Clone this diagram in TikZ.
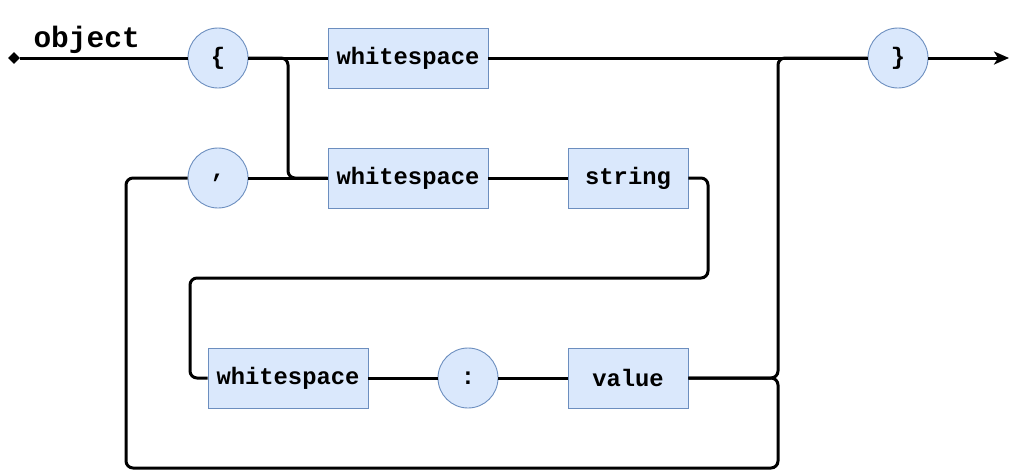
\documentclass[tikz,border=0pt]{standalone}
\usepackage{fontspec}
\setmonofont{Liberation Mono}
\usetikzlibrary{arrows.meta,shapes.geometric}
\definecolor{boxfill}{HTML}{DAE8FC}
\definecolor{boxline}{HTML}{6C8EBF}
\begin{document}
\begin{tikzpicture}[x=1pt,y=-1pt,
  every node/.style={font=\ttfamily\bfseries\fontsize{23.8}{28}\selectfont},
  termbox/.style={draw=boxline,fill=boxfill,line width=0.9pt,minimum width=160pt,minimum height=60pt,inner sep=0pt},
  shortbox/.style={termbox,minimum width=120pt},
  circ/.style={circle,draw=boxline,fill=boxfill,line width=0.9pt,minimum size=60pt,inner sep=0pt},
  conn/.style={line width=3pt,rounded corners=7pt},
  startdot/.style={diamond,fill=black,minimum size=12pt,inner sep=0pt}
]
\useasboundingbox (0,0) rectangle (1019,472);
\node[startdot] (start) at (14,58) {};
\node[anchor=base west,font=\ttfamily\bfseries\fontsize{29.5}{34}\selectfont] (lbl) at (30,47) {object};
\node[circ] (lb) at (218,58) {\{};
\node[termbox] (ws1) at (408,58) {whitespace};
\node[circ] (rb) at (898,58) {\}};
\coordinate (end) at (1009,58);
\node[circ] (comma) at (218,178) {\raisebox{-3pt}{,}};
\node[termbox] (ws2) at (408,178) {whitespace};
\node[shortbox] (str) at (628,178) {string};
\node[termbox] (ws3) at (288,378) {whitespace};
\node[circ] (colon) at (468,378) {:};
\node[shortbox] (val) at (628,378) {value};

\draw[conn] (start) -- (lb);
\draw[conn] (lb) -- (ws1);
\draw[conn] (ws1) -- (rb);
\draw[conn,-{Stealth[length=15pt,width=13pt,inset=4pt]}] (rb) -- (end);
\draw[conn] (lb.east) -- (288,58) -- (288,178) -- (ws2.west);
\draw[conn] (comma) -- (ws2);
\draw[conn] (ws2) -- (str);
\draw[conn] (str.east) -- (708,178) -- (708,278) -- (190,278) -- (190,378) -- (ws3.west);
\draw[conn] (ws3) -- (colon);
\draw[conn] (colon) -- (val);
\draw[conn] (val.east) -- (778,378) -- (778,58) -- (rb.west);
\draw[conn] (val.east) -- (778,378) -- (778,468) -- (126,468) -- (126,178) -- (comma.west);
\end{tikzpicture}
\end{document}
